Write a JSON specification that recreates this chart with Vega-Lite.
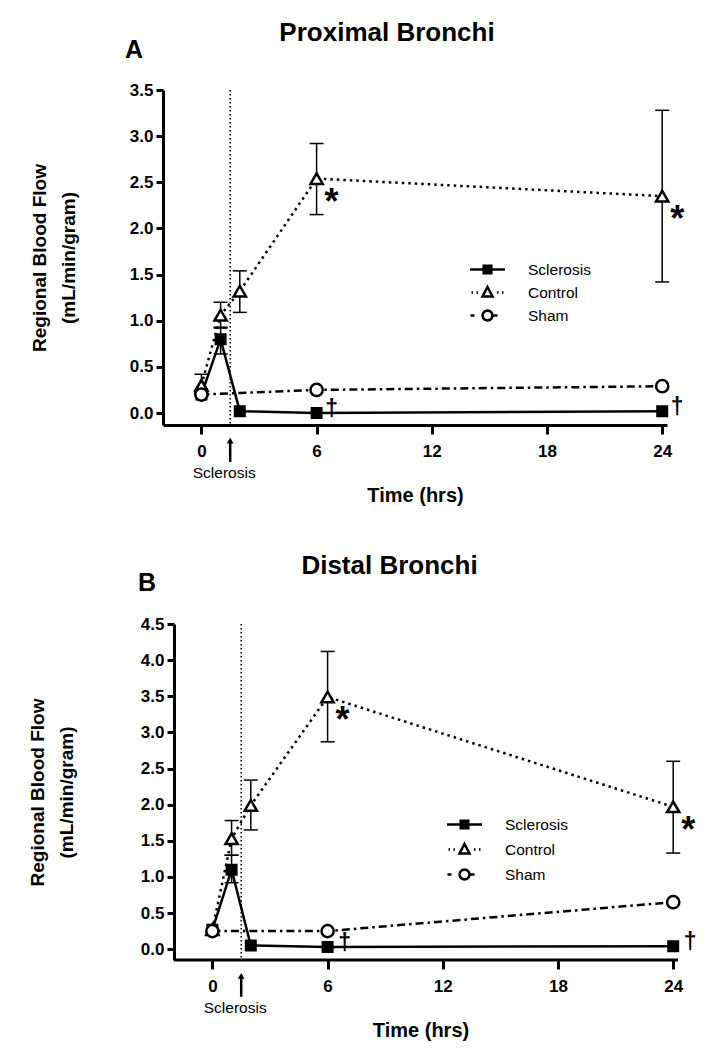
{
  "$schema": "https://vega.github.io/schema/vega-lite/v6.json",
  "background": "white",
  "padding": {"left": 28, "top": 20, "right": 5, "bottom": 5},
  "config": {
    "font": "Liberation Sans",
    "view": {"stroke": null},
    "axis": {"domainColor": "black", "domainWidth": 3, "tickColor": "black", "tickWidth": 3, "labelColor": "black", "labelFont": "Liberation Sans", "labelFontWeight": "bold", "labelFontSize": 17, "titleColor": "black", "titleFont": "Liberation Sans", "titleFontWeight": "bold", "grid": false, "labelOverlap": false, "labelFlush": false}
  },
  "datasets": {
    "A": [
      {"series": "Control", "t": 0, "v": 0.3, "lo": 0.2, "hi": 0.42},
      {"series": "Control", "t": 1, "v": 1.06, "lo": 0.93, "hi": 1.2},
      {"series": "Control", "t": 2, "v": 1.32, "lo": 1.09, "hi": 1.54},
      {"series": "Control", "t": 6, "v": 2.54, "lo": 2.15, "hi": 2.92, "sig": "*"},
      {"series": "Control", "t": 24, "v": 2.35, "lo": 1.42, "hi": 3.28, "sig": "*"},
      {"series": "Sclerosis", "t": 0, "v": 0.2},
      {"series": "Sclerosis", "t": 1, "v": 0.8, "lo": 0.64, "hi": 0.92},
      {"series": "Sclerosis", "t": 2, "v": 0.02},
      {"series": "Sclerosis", "t": 6, "v": 0.0, "sig": "†"},
      {"series": "Sclerosis", "t": 24, "v": 0.02, "sig": "†"},
      {"series": "Sham", "t": 0, "v": 0.2},
      {"series": "Sham", "t": 6, "v": 0.25},
      {"series": "Sham", "t": 24, "v": 0.29}
    ],
    "B": [
      {"series": "Control", "t": 0, "v": 0.27},
      {"series": "Control", "t": 1, "v": 1.53, "lo": 1.3, "hi": 1.78},
      {"series": "Control", "t": 2, "v": 1.99, "lo": 1.65, "hi": 2.34},
      {"series": "Control", "t": 6, "v": 3.49, "lo": 2.87, "hi": 4.12, "sig": "*"},
      {"series": "Control", "t": 24, "v": 1.97, "lo": 1.33, "hi": 2.6, "sig": "*"},
      {"series": "Sclerosis", "t": 0, "v": 0.27},
      {"series": "Sclerosis", "t": 1, "v": 1.1, "lo": 0.92, "hi": 1.3},
      {"series": "Sclerosis", "t": 2, "v": 0.05},
      {"series": "Sclerosis", "t": 6, "v": 0.03, "sig": "†"},
      {"series": "Sclerosis", "t": 24, "v": 0.04, "sig": "†"},
      {"series": "Sham", "t": 0, "v": 0.25},
      {"series": "Sham", "t": 6, "v": 0.25},
      {"series": "Sham", "t": 24, "v": 0.65}
    ]
  },
  "spacing": 48,
  "resolve": {"scale": {"shape": "independent"}, "legend": {"shape": "independent"}},
  "vconcat": [
    {
      "width": 504,
      "height": 335,
      "title": {"text": "Proximal Bronchi", "fontSize": 26, "fontWeight": "bold", "font": "Liberation Sans", "color": "black", "anchor": "middle", "frame": "group", "dx": -28, "offset": -8},
      "data": {"name": "A"},
      "resolve": {"scale": {"shape": "independent"}, "legend": {"shape": "independent"}},
      "layer": [
        {
          "data": {"values": [{}]},
          "mark": {"type": "rule", "strokeDash": [1.5, 2.5], "strokeWidth": 1.5, "color": "black"},
          "encoding": {"x": {"datum": 1.5, "type": "quantitative", "scale": {"domain": [-2, 24.25], "nice": false, "zero": false},
            "axis": {"values": [0, 6, 12, 18, 24], "format": "d", "tickSize": 9, "labelPadding": 9, "labelOverlap": false, "title": "Time (hrs)", "titleFontSize": 20, "titlePadding": 26}}}
        },
        {
          "transform": [{"filter": "isValid(datum.lo)"}],
          "mark": {"type": "rule", "strokeWidth": 1.5, "color": "black"},
          "encoding": {
            "x": {"field": "t", "type": "quantitative", "scale": {"domain": [-2, 24.25], "nice": false, "zero": false},
              "axis": {"values": [0, 6, 12, 18, 24], "format": "d", "tickSize": 9, "labelPadding": 9, "labelOverlap": false, "title": "Time (hrs)", "titleFontSize": 20, "titlePadding": 26}},
            "y": {"field": "lo", "type": "quantitative", "scale": {"domain": [-0.13, 3.5], "nice": false, "zero": false},
              "axis": {"values": [0, 0.5, 1, 1.5, 2, 2.5, 3, 3.5], "format": ".1f", "tickSize": 7, "labelPadding": 3, "labelOverlap": false, "title": ["Regional Blood Flow", "(mL/min/gram)"], "titleFontSize": 19, "titleLineHeight": 29, "titlePadding": 51}},
            "y2": {"field": "hi"}
          }
        },
        {
          "transform": [{"filter": "isValid(datum.lo)"}],
          "mark": {"type": "tick", "orient": "horizontal", "size": 14, "thickness": 1.5, "color": "black", "opacity": 1},
          "encoding": {
            "x": {"field": "t", "type": "quantitative", "scale": {"domain": [-2, 24.25], "nice": false, "zero": false},
              "axis": {"values": [0, 6, 12, 18, 24], "format": "d", "tickSize": 9, "labelPadding": 9, "labelOverlap": false, "title": "Time (hrs)", "titleFontSize": 20, "titlePadding": 26}},
            "y": {"field": "lo", "type": "quantitative", "scale": {"domain": [-0.13, 3.5], "nice": false, "zero": false},
              "axis": {"values": [0, 0.5, 1, 1.5, 2, 2.5, 3, 3.5], "format": ".1f", "tickSize": 7, "labelPadding": 3, "labelOverlap": false, "title": ["Regional Blood Flow", "(mL/min/gram)"], "titleFontSize": 19, "titleLineHeight": 29, "titlePadding": 51}}
          }
        },
        {
          "transform": [{"filter": "isValid(datum.hi)"}],
          "mark": {"type": "tick", "orient": "horizontal", "size": 14, "thickness": 1.5, "color": "black", "opacity": 1},
          "encoding": {
            "x": {"field": "t", "type": "quantitative", "scale": {"domain": [-2, 24.25], "nice": false, "zero": false},
              "axis": {"values": [0, 6, 12, 18, 24], "format": "d", "tickSize": 9, "labelPadding": 9, "labelOverlap": false, "title": "Time (hrs)", "titleFontSize": 20, "titlePadding": 26}},
            "y": {"field": "hi", "type": "quantitative", "scale": {"domain": [-0.13, 3.5], "nice": false, "zero": false},
              "axis": {"values": [0, 0.5, 1, 1.5, 2, 2.5, 3, 3.5], "format": ".1f", "tickSize": 7, "labelPadding": 3, "labelOverlap": false, "title": ["Regional Blood Flow", "(mL/min/gram)"], "titleFontSize": 19, "titleLineHeight": 29, "titlePadding": 51}}
          }
        },
        {
          "transform": [{"filter": "datum.series === 'Sclerosis'"}],
          "mark": {"type": "line", "strokeWidth": 2.5, "color": "black"},
          "encoding": {
            "x": {"field": "t", "type": "quantitative", "scale": {"domain": [-2, 24.25], "nice": false, "zero": false},
              "axis": {"values": [0, 6, 12, 18, 24], "format": "d", "tickSize": 9, "labelPadding": 9, "labelOverlap": false, "title": "Time (hrs)", "titleFontSize": 20, "titlePadding": 26}},
            "y": {"field": "v", "type": "quantitative", "scale": {"domain": [-0.13, 3.5], "nice": false, "zero": false},
              "axis": {"values": [0, 0.5, 1, 1.5, 2, 2.5, 3, 3.5], "format": ".1f", "tickSize": 7, "labelPadding": 3, "labelOverlap": false, "title": ["Regional Blood Flow", "(mL/min/gram)"], "titleFontSize": 19, "titleLineHeight": 29, "titlePadding": 51}}
          }
        },
        {
          "transform": [{"filter": "datum.series === 'Control'"}],
          "mark": {"type": "line", "strokeWidth": 2.5, "color": "black", "strokeDash": [2.5, 4]},
          "encoding": {
            "x": {"field": "t", "type": "quantitative", "scale": {"domain": [-2, 24.25], "nice": false, "zero": false},
              "axis": {"values": [0, 6, 12, 18, 24], "format": "d", "tickSize": 9, "labelPadding": 9, "labelOverlap": false, "title": "Time (hrs)", "titleFontSize": 20, "titlePadding": 26}},
            "y": {"field": "v", "type": "quantitative", "scale": {"domain": [-0.13, 3.5], "nice": false, "zero": false},
              "axis": {"values": [0, 0.5, 1, 1.5, 2, 2.5, 3, 3.5], "format": ".1f", "tickSize": 7, "labelPadding": 3, "labelOverlap": false, "title": ["Regional Blood Flow", "(mL/min/gram)"], "titleFontSize": 19, "titleLineHeight": 29, "titlePadding": 51}}
          }
        },
        {
          "transform": [{"filter": "datum.series === 'Sham'"}],
          "mark": {"type": "line", "strokeWidth": 2.5, "color": "black", "strokeDash": [8, 4, 2.5, 4]},
          "encoding": {
            "x": {"field": "t", "type": "quantitative", "scale": {"domain": [-2, 24.25], "nice": false, "zero": false},
              "axis": {"values": [0, 6, 12, 18, 24], "format": "d", "tickSize": 9, "labelPadding": 9, "labelOverlap": false, "title": "Time (hrs)", "titleFontSize": 20, "titlePadding": 26}},
            "y": {"field": "v", "type": "quantitative", "scale": {"domain": [-0.13, 3.5], "nice": false, "zero": false},
              "axis": {"values": [0, 0.5, 1, 1.5, 2, 2.5, 3, 3.5], "format": ".1f", "tickSize": 7, "labelPadding": 3, "labelOverlap": false, "title": ["Regional Blood Flow", "(mL/min/gram)"], "titleFontSize": 19, "titleLineHeight": 29, "titlePadding": 51}}
          }
        },
        {
          "mark": {"type": "point", "strokeWidth": 2.5, "opacity": 1, "stroke": "black"},
          "encoding": {
            "x": {"field": "t", "type": "quantitative", "scale": {"domain": [-2, 24.25], "nice": false, "zero": false},
              "axis": {"values": [0, 6, 12, 18, 24], "format": "d", "tickSize": 9, "labelPadding": 9, "labelOverlap": false, "title": "Time (hrs)", "titleFontSize": 20, "titlePadding": 26}},
            "y": {"field": "v", "type": "quantitative", "scale": {"domain": [-0.13, 3.5], "nice": false, "zero": false},
              "axis": {"values": [0, 0.5, 1, 1.5, 2, 2.5, 3, 3.5], "format": ".1f", "tickSize": 7, "labelPadding": 3, "labelOverlap": false, "title": ["Regional Blood Flow", "(mL/min/gram)"], "titleFontSize": 19, "titleLineHeight": 29, "titlePadding": 51}},
            "fill": {"condition": {"test": "datum.series === 'Sclerosis'", "value": "black"}, "value": "white"},
            "size": {"condition": {"test": "datum.series === 'Sclerosis'", "value": 90}, "value": 150},
            "shape": {"field": "series", "type": "nominal", "scale": {"domain": ["Sclerosis", "Control", "Sham"], "range": ["square", "triangle-up", "circle"]}, "legend": null}
          }
        },
        {
          "transform": [{"filter": "false"}],
          "mark": {"type": "point", "strokeWidth": 2.5, "opacity": 1, "color": "black", "filled": false},
          "encoding": {
            "x": {"field": "t", "type": "quantitative", "scale": {"domain": [-2, 24.25], "nice": false, "zero": false},
              "axis": {"values": [0, 6, 12, 18, 24], "format": "d", "tickSize": 9, "labelPadding": 9, "labelOverlap": false, "title": "Time (hrs)", "titleFontSize": 20, "titlePadding": 26}},
            "y": {"field": "v", "type": "quantitative", "scale": {"domain": [-0.13, 3.5], "nice": false, "zero": false},
              "axis": {"values": [0, 0.5, 1, 1.5, 2, 2.5, 3, 3.5], "format": ".1f", "tickSize": 7, "labelPadding": 3, "labelOverlap": false, "title": ["Regional Blood Flow", "(mL/min/gram)"], "titleFontSize": 19, "titleLineHeight": 29, "titlePadding": 51}},
            "shape": {"field": "series", "type": "nominal",
              "scale": {"domain": ["Sclerosis", "Control", "Sham"], "range": [
                "M-1.75,0H1.75M-0.38,-0.38H0.38V0.38H-0.38ZM-0.38,-0.19H0.38M-0.38,0.19H0.38",
                "M-1.6,0H-1.45M-1.1,0H-0.95M0.95,0H1.1M1.45,0H1.6M0,-0.55L0.5,0.4H-0.5Z",
                "M-1.7,0H-1.3M0.5,0H1.0M0.5,0L0.433,0.25L0.25,0.433L0,0.5L-0.25,0.433L-0.433,0.25L-0.5,0L-0.433,-0.25L-0.25,-0.433L0,-0.5L0.25,-0.433L0.433,-0.25Z"
              ]},
              "legend": {"orient": "none", "legendX": 313, "legendY": 168, "title": null, "symbolSize": 400, "symbolStrokeWidth": 2.5, "symbolStrokeColor": "black", "symbolFillColor": "white", "symbolOpacity": 1, "labelOffset": 29, "labelFontSize": 15.5, "labelFont": "Liberation Sans", "labelFontWeight": "normal", "labelColor": "black", "rowPadding": 2, "padding": 0}}
          }
        },
        {
          "transform": [{"filter": "datum.sig === '*'"}],
          "mark": {"type": "text", "fontSize": 36, "fontWeight": "bold", "font": "Liberation Sans", "color": "black", "baseline": "middle", "dx": 15, "dy": 24},
          "encoding": {
            "x": {"field": "t", "type": "quantitative", "scale": {"domain": [-2, 24.25], "nice": false, "zero": false},
              "axis": {"values": [0, 6, 12, 18, 24], "format": "d", "tickSize": 9, "labelPadding": 9, "labelOverlap": false, "title": "Time (hrs)", "titleFontSize": 20, "titlePadding": 26}},
            "y": {"field": "v", "type": "quantitative", "scale": {"domain": [-0.13, 3.5], "nice": false, "zero": false},
              "axis": {"values": [0, 0.5, 1, 1.5, 2, 2.5, 3, 3.5], "format": ".1f", "tickSize": 7, "labelPadding": 3, "labelOverlap": false, "title": ["Regional Blood Flow", "(mL/min/gram)"], "titleFontSize": 19, "titleLineHeight": 29, "titlePadding": 51}},
            "text": {"field": "sig"}
          }
        },
        {
          "transform": [{"filter": "datum.sig === '†'"}],
          "mark": {"type": "text", "fontSize": 23, "fontWeight": "bold", "font": "Liberation Sans", "color": "black", "baseline": "middle", "dx": 15, "dy": -4},
          "encoding": {
            "x": {"field": "t", "type": "quantitative", "scale": {"domain": [-2, 24.25], "nice": false, "zero": false},
              "axis": {"values": [0, 6, 12, 18, 24], "format": "d", "tickSize": 9, "labelPadding": 9, "labelOverlap": false, "title": "Time (hrs)", "titleFontSize": 20, "titlePadding": 26}},
            "y": {"field": "v", "type": "quantitative", "scale": {"domain": [-0.13, 3.5], "nice": false, "zero": false},
              "axis": {"values": [0, 0.5, 1, 1.5, 2, 2.5, 3, 3.5], "format": ".1f", "tickSize": 7, "labelPadding": 3, "labelOverlap": false, "title": ["Regional Blood Flow", "(mL/min/gram)"], "titleFontSize": 19, "titleLineHeight": 29, "titlePadding": 51}},
            "text": {"field": "sig"}
          }
        },
        {
          "data": {"values": [{}]},
          "mark": {"type": "rule", "strokeWidth": 2.5, "color": "black"},
          "encoding": {
            "x": {"datum": 1.5, "type": "quantitative", "scale": {"domain": [-2, 24.25], "nice": false, "zero": false},
              "axis": {"values": [0, 6, 12, 18, 24], "format": "d", "tickSize": 9, "labelPadding": 9, "labelOverlap": false, "title": "Time (hrs)", "titleFontSize": 20, "titlePadding": 26}},
            "y": {"datum": -0.29, "type": "quantitative", "scale": {"domain": [-0.13, 3.5], "nice": false, "zero": false},
              "axis": {"values": [0, 0.5, 1, 1.5, 2, 2.5, 3, 3.5], "format": ".1f", "tickSize": 7, "labelPadding": 3, "labelOverlap": false, "title": ["Regional Blood Flow", "(mL/min/gram)"], "titleFontSize": 19, "titleLineHeight": 29, "titlePadding": 51}},
            "y2": {"datum": -0.53}
          }
        },
        {
          "data": {"values": [{}]},
          "mark": {"type": "point", "shape": "triangle-up", "filled": true, "size": 45, "color": "black", "opacity": 1},
          "encoding": {
            "x": {"datum": 1.5, "type": "quantitative", "scale": {"domain": [-2, 24.25], "nice": false, "zero": false},
              "axis": {"values": [0, 6, 12, 18, 24], "format": "d", "tickSize": 9, "labelPadding": 9, "labelOverlap": false, "title": "Time (hrs)", "titleFontSize": 20, "titlePadding": 26}},
            "y": {"datum": -0.3, "type": "quantitative", "scale": {"domain": [-0.13, 3.5], "nice": false, "zero": false},
              "axis": {"values": [0, 0.5, 1, 1.5, 2, 2.5, 3, 3.5], "format": ".1f", "tickSize": 7, "labelPadding": 3, "labelOverlap": false, "title": ["Regional Blood Flow", "(mL/min/gram)"], "titleFontSize": 19, "titleLineHeight": 29, "titlePadding": 51}}
          }
        },
        {
          "data": {"values": [{}]},
          "mark": {"type": "text", "text": "Sclerosis", "fontSize": 15.5, "font": "Liberation Sans", "color": "black", "baseline": "middle", "dy": 48, "dx": -6},
          "encoding": {
            "x": {"datum": 1.5, "type": "quantitative", "scale": {"domain": [-2, 24.25], "nice": false, "zero": false},
              "axis": {"values": [0, 6, 12, 18, 24], "format": "d", "tickSize": 9, "labelPadding": 9, "labelOverlap": false, "title": "Time (hrs)", "titleFontSize": 20, "titlePadding": 26}},
            "y": {"datum": -0.13, "type": "quantitative", "scale": {"domain": [-0.13, 3.5], "nice": false, "zero": false},
              "axis": {"values": [0, 0.5, 1, 1.5, 2, 2.5, 3, 3.5], "format": ".1f", "tickSize": 7, "labelPadding": 3, "labelOverlap": false, "title": ["Regional Blood Flow", "(mL/min/gram)"], "titleFontSize": 19, "titleLineHeight": 29, "titlePadding": 51}}
          }
        },
        {
          "data": {"values": [{}]},
          "mark": {"type": "text", "text": "A", "fontSize": 25, "font": "Liberation Sans", "fontWeight": "bold", "color": "black", "baseline": "middle", "dy": -40, "dx": -29},
          "encoding": {
            "x": {"datum": -2, "type": "quantitative", "scale": {"domain": [-2, 24.25], "nice": false, "zero": false},
              "axis": {"values": [0, 6, 12, 18, 24], "format": "d", "tickSize": 9, "labelPadding": 9, "labelOverlap": false, "title": "Time (hrs)", "titleFontSize": 20, "titlePadding": 26}},
            "y": {"datum": 3.5, "type": "quantitative", "scale": {"domain": [-0.13, 3.5], "nice": false, "zero": false},
              "axis": {"values": [0, 0.5, 1, 1.5, 2, 2.5, 3, 3.5], "format": ".1f", "tickSize": 7, "labelPadding": 3, "labelOverlap": false, "title": ["Regional Blood Flow", "(mL/min/gram)"], "titleFontSize": 19, "titleLineHeight": 29, "titlePadding": 51}}
          }
        }
      ]
    },
    {
      "width": 515,
      "height": 336,
      "title": {"text": "Distal Bronchi", "fontSize": 26, "fontWeight": "bold", "font": "Liberation Sans", "color": "black", "anchor": "middle", "frame": "group", "dx": -31, "offset": -8},
      "data": {"name": "B"},
      "resolve": {"scale": {"shape": "independent"}, "legend": {"shape": "independent"}},
      "layer": [
        {
          "data": {"values": [{}]},
          "mark": {"type": "rule", "strokeDash": [1.5, 2.5], "strokeWidth": 1.5, "color": "black"},
          "encoding": {"x": {"datum": 1.5, "type": "quantitative", "scale": {"domain": [-2.573, 24.25], "nice": false, "zero": false},
            "axis": {"values": [0, 6, 12, 18, 24], "format": "d", "domain": false, "tickSize": 9, "labelPadding": 9, "labelOverlap": false, "title": "Time (hrs)", "titleFontSize": 20, "titlePadding": 26}}}
        },
        {
          "data": {"values": [{}]},
          "mark": {"type": "rule", "strokeWidth": 3, "color": "black"},
          "encoding": {
            "x": {"datum": -2.0, "type": "quantitative", "scale": {"domain": [-2.573, 24.25], "nice": false, "zero": false},
              "axis": {"values": [0, 6, 12, 18, 24], "format": "d", "domain": false, "tickSize": 9, "labelPadding": 9, "labelOverlap": false, "title": "Time (hrs)", "titleFontSize": 20, "titlePadding": 26}},
            "x2": {"datum": 24.25},
            "y": {"datum": -0.15, "type": "quantitative", "scale": {"domain": [-0.15, 4.5], "nice": false, "zero": false},
              "axis": {"values": [0, 0.5, 1, 1.5, 2, 2.5, 3, 3.5, 4, 4.5], "format": ".1f", "offset": -11, "tickSize": 7, "labelPadding": 3, "labelOverlap": false, "title": ["Regional Blood Flow", "(mL/min/gram)"], "titleFontSize": 19, "titleLineHeight": 29, "titlePadding": 64}}
          }
        },
        {
          "transform": [{"filter": "isValid(datum.lo)"}],
          "mark": {"type": "rule", "strokeWidth": 1.5, "color": "black"},
          "encoding": {
            "x": {"field": "t", "type": "quantitative", "scale": {"domain": [-2.573, 24.25], "nice": false, "zero": false},
              "axis": {"values": [0, 6, 12, 18, 24], "format": "d", "domain": false, "tickSize": 9, "labelPadding": 9, "labelOverlap": false, "title": "Time (hrs)", "titleFontSize": 20, "titlePadding": 26}},
            "y": {"field": "lo", "type": "quantitative", "scale": {"domain": [-0.15, 4.5], "nice": false, "zero": false},
              "axis": {"values": [0, 0.5, 1, 1.5, 2, 2.5, 3, 3.5, 4, 4.5], "format": ".1f", "offset": -11, "tickSize": 7, "labelPadding": 3, "labelOverlap": false, "title": ["Regional Blood Flow", "(mL/min/gram)"], "titleFontSize": 19, "titleLineHeight": 29, "titlePadding": 64}},
            "y2": {"field": "hi"}
          }
        },
        {
          "transform": [{"filter": "isValid(datum.lo)"}],
          "mark": {"type": "tick", "orient": "horizontal", "size": 14, "thickness": 1.5, "color": "black", "opacity": 1},
          "encoding": {
            "x": {"field": "t", "type": "quantitative", "scale": {"domain": [-2.573, 24.25], "nice": false, "zero": false},
              "axis": {"values": [0, 6, 12, 18, 24], "format": "d", "domain": false, "tickSize": 9, "labelPadding": 9, "labelOverlap": false, "title": "Time (hrs)", "titleFontSize": 20, "titlePadding": 26}},
            "y": {"field": "lo", "type": "quantitative", "scale": {"domain": [-0.15, 4.5], "nice": false, "zero": false},
              "axis": {"values": [0, 0.5, 1, 1.5, 2, 2.5, 3, 3.5, 4, 4.5], "format": ".1f", "offset": -11, "tickSize": 7, "labelPadding": 3, "labelOverlap": false, "title": ["Regional Blood Flow", "(mL/min/gram)"], "titleFontSize": 19, "titleLineHeight": 29, "titlePadding": 64}}
          }
        },
        {
          "transform": [{"filter": "isValid(datum.hi)"}],
          "mark": {"type": "tick", "orient": "horizontal", "size": 14, "thickness": 1.5, "color": "black", "opacity": 1},
          "encoding": {
            "x": {"field": "t", "type": "quantitative", "scale": {"domain": [-2.573, 24.25], "nice": false, "zero": false},
              "axis": {"values": [0, 6, 12, 18, 24], "format": "d", "domain": false, "tickSize": 9, "labelPadding": 9, "labelOverlap": false, "title": "Time (hrs)", "titleFontSize": 20, "titlePadding": 26}},
            "y": {"field": "hi", "type": "quantitative", "scale": {"domain": [-0.15, 4.5], "nice": false, "zero": false},
              "axis": {"values": [0, 0.5, 1, 1.5, 2, 2.5, 3, 3.5, 4, 4.5], "format": ".1f", "offset": -11, "tickSize": 7, "labelPadding": 3, "labelOverlap": false, "title": ["Regional Blood Flow", "(mL/min/gram)"], "titleFontSize": 19, "titleLineHeight": 29, "titlePadding": 64}}
          }
        },
        {
          "transform": [{"filter": "datum.series === 'Sclerosis'"}],
          "mark": {"type": "line", "strokeWidth": 2.5, "color": "black"},
          "encoding": {
            "x": {"field": "t", "type": "quantitative", "scale": {"domain": [-2.573, 24.25], "nice": false, "zero": false},
              "axis": {"values": [0, 6, 12, 18, 24], "format": "d", "domain": false, "tickSize": 9, "labelPadding": 9, "labelOverlap": false, "title": "Time (hrs)", "titleFontSize": 20, "titlePadding": 26}},
            "y": {"field": "v", "type": "quantitative", "scale": {"domain": [-0.15, 4.5], "nice": false, "zero": false},
              "axis": {"values": [0, 0.5, 1, 1.5, 2, 2.5, 3, 3.5, 4, 4.5], "format": ".1f", "offset": -11, "tickSize": 7, "labelPadding": 3, "labelOverlap": false, "title": ["Regional Blood Flow", "(mL/min/gram)"], "titleFontSize": 19, "titleLineHeight": 29, "titlePadding": 64}}
          }
        },
        {
          "transform": [{"filter": "datum.series === 'Control'"}],
          "mark": {"type": "line", "strokeWidth": 2.5, "color": "black", "strokeDash": [2.5, 4]},
          "encoding": {
            "x": {"field": "t", "type": "quantitative", "scale": {"domain": [-2.573, 24.25], "nice": false, "zero": false},
              "axis": {"values": [0, 6, 12, 18, 24], "format": "d", "domain": false, "tickSize": 9, "labelPadding": 9, "labelOverlap": false, "title": "Time (hrs)", "titleFontSize": 20, "titlePadding": 26}},
            "y": {"field": "v", "type": "quantitative", "scale": {"domain": [-0.15, 4.5], "nice": false, "zero": false},
              "axis": {"values": [0, 0.5, 1, 1.5, 2, 2.5, 3, 3.5, 4, 4.5], "format": ".1f", "offset": -11, "tickSize": 7, "labelPadding": 3, "labelOverlap": false, "title": ["Regional Blood Flow", "(mL/min/gram)"], "titleFontSize": 19, "titleLineHeight": 29, "titlePadding": 64}}
          }
        },
        {
          "transform": [{"filter": "datum.series === 'Sham'"}],
          "mark": {"type": "line", "strokeWidth": 2.5, "color": "black", "strokeDash": [8, 4, 2.5, 4]},
          "encoding": {
            "x": {"field": "t", "type": "quantitative", "scale": {"domain": [-2.573, 24.25], "nice": false, "zero": false},
              "axis": {"values": [0, 6, 12, 18, 24], "format": "d", "domain": false, "tickSize": 9, "labelPadding": 9, "labelOverlap": false, "title": "Time (hrs)", "titleFontSize": 20, "titlePadding": 26}},
            "y": {"field": "v", "type": "quantitative", "scale": {"domain": [-0.15, 4.5], "nice": false, "zero": false},
              "axis": {"values": [0, 0.5, 1, 1.5, 2, 2.5, 3, 3.5, 4, 4.5], "format": ".1f", "offset": -11, "tickSize": 7, "labelPadding": 3, "labelOverlap": false, "title": ["Regional Blood Flow", "(mL/min/gram)"], "titleFontSize": 19, "titleLineHeight": 29, "titlePadding": 64}}
          }
        },
        {
          "mark": {"type": "point", "strokeWidth": 2.5, "opacity": 1, "stroke": "black"},
          "encoding": {
            "x": {"field": "t", "type": "quantitative", "scale": {"domain": [-2.573, 24.25], "nice": false, "zero": false},
              "axis": {"values": [0, 6, 12, 18, 24], "format": "d", "domain": false, "tickSize": 9, "labelPadding": 9, "labelOverlap": false, "title": "Time (hrs)", "titleFontSize": 20, "titlePadding": 26}},
            "y": {"field": "v", "type": "quantitative", "scale": {"domain": [-0.15, 4.5], "nice": false, "zero": false},
              "axis": {"values": [0, 0.5, 1, 1.5, 2, 2.5, 3, 3.5, 4, 4.5], "format": ".1f", "offset": -11, "tickSize": 7, "labelPadding": 3, "labelOverlap": false, "title": ["Regional Blood Flow", "(mL/min/gram)"], "titleFontSize": 19, "titleLineHeight": 29, "titlePadding": 64}},
            "fill": {"condition": {"test": "datum.series === 'Sclerosis'", "value": "black"}, "value": "white"},
            "size": {"condition": {"test": "datum.series === 'Sclerosis'", "value": 90}, "value": 150},
            "shape": {"field": "series", "type": "nominal", "scale": {"domain": ["Sclerosis", "Control", "Sham"], "range": ["square", "triangle-up", "circle"]}, "legend": null}
          }
        },
        {
          "transform": [{"filter": "false"}],
          "mark": {"type": "point", "strokeWidth": 2.5, "opacity": 1, "color": "black", "filled": false},
          "encoding": {
            "x": {"field": "t", "type": "quantitative", "scale": {"domain": [-2.573, 24.25], "nice": false, "zero": false},
              "axis": {"values": [0, 6, 12, 18, 24], "format": "d", "domain": false, "tickSize": 9, "labelPadding": 9, "labelOverlap": false, "title": "Time (hrs)", "titleFontSize": 20, "titlePadding": 26}},
            "y": {"field": "v", "type": "quantitative", "scale": {"domain": [-0.15, 4.5], "nice": false, "zero": false},
              "axis": {"values": [0, 0.5, 1, 1.5, 2, 2.5, 3, 3.5, 4, 4.5], "format": ".1f", "offset": -11, "tickSize": 7, "labelPadding": 3, "labelOverlap": false, "title": ["Regional Blood Flow", "(mL/min/gram)"], "titleFontSize": 19, "titleLineHeight": 29, "titlePadding": 64}},
            "shape": {"field": "series", "type": "nominal",
              "scale": {"domain": ["Sclerosis", "Control", "Sham"], "range": [
                "M-1.75,0H1.75M-0.38,-0.38H0.38V0.38H-0.38ZM-0.38,-0.19H0.38M-0.38,0.19H0.38",
                "M-1.6,0H-1.45M-1.1,0H-0.95M0.95,0H1.1M1.45,0H1.6M0,-0.55L0.5,0.4H-0.5Z",
                "M-1.7,0H-1.3M0.5,0H1.0M0.5,0L0.433,0.25L0.25,0.433L0,0.5L-0.25,0.433L-0.433,0.25L-0.5,0L-0.433,-0.25L-0.25,-0.433L0,-0.5L0.25,-0.433L0.433,-0.25Z"
              ]},
              "legend": {"orient": "none", "legendX": 290, "legendY": 189, "title": null, "symbolSize": 400, "symbolStrokeWidth": 2.5, "symbolStrokeColor": "black", "symbolFillColor": "white", "symbolOpacity": 1, "labelOffset": 29, "labelFontSize": 15.5, "labelFont": "Liberation Sans", "labelFontWeight": "normal", "labelColor": "black", "rowPadding": 4, "padding": 0}}
          }
        },
        {
          "transform": [{"filter": "datum.sig === '*'"}],
          "mark": {"type": "text", "fontSize": 36, "fontWeight": "bold", "font": "Liberation Sans", "color": "black", "baseline": "middle", "dx": 15, "dy": 24},
          "encoding": {
            "x": {"field": "t", "type": "quantitative", "scale": {"domain": [-2.573, 24.25], "nice": false, "zero": false},
              "axis": {"values": [0, 6, 12, 18, 24], "format": "d", "domain": false, "tickSize": 9, "labelPadding": 9, "labelOverlap": false, "title": "Time (hrs)", "titleFontSize": 20, "titlePadding": 26}},
            "y": {"field": "v", "type": "quantitative", "scale": {"domain": [-0.15, 4.5], "nice": false, "zero": false},
              "axis": {"values": [0, 0.5, 1, 1.5, 2, 2.5, 3, 3.5, 4, 4.5], "format": ".1f", "offset": -11, "tickSize": 7, "labelPadding": 3, "labelOverlap": false, "title": ["Regional Blood Flow", "(mL/min/gram)"], "titleFontSize": 19, "titleLineHeight": 29, "titlePadding": 64}},
            "text": {"field": "sig"}
          }
        },
        {
          "transform": [{"filter": "datum.sig === '†'"}],
          "mark": {"type": "text", "fontSize": 23, "fontWeight": "bold", "font": "Liberation Sans", "color": "black", "baseline": "middle", "dx": 17, "dy": -4},
          "encoding": {
            "x": {"field": "t", "type": "quantitative", "scale": {"domain": [-2.573, 24.25], "nice": false, "zero": false},
              "axis": {"values": [0, 6, 12, 18, 24], "format": "d", "domain": false, "tickSize": 9, "labelPadding": 9, "labelOverlap": false, "title": "Time (hrs)", "titleFontSize": 20, "titlePadding": 26}},
            "y": {"field": "v", "type": "quantitative", "scale": {"domain": [-0.15, 4.5], "nice": false, "zero": false},
              "axis": {"values": [0, 0.5, 1, 1.5, 2, 2.5, 3, 3.5, 4, 4.5], "format": ".1f", "offset": -11, "tickSize": 7, "labelPadding": 3, "labelOverlap": false, "title": ["Regional Blood Flow", "(mL/min/gram)"], "titleFontSize": 19, "titleLineHeight": 29, "titlePadding": 64}},
            "text": {"field": "sig"}
          }
        },
        {
          "data": {"values": [{}]},
          "mark": {"type": "rule", "strokeWidth": 2.5, "color": "black"},
          "encoding": {
            "x": {"datum": 1.5, "type": "quantitative", "scale": {"domain": [-2.573, 24.25], "nice": false, "zero": false},
              "axis": {"values": [0, 6, 12, 18, 24], "format": "d", "domain": false, "tickSize": 9, "labelPadding": 9, "labelOverlap": false, "title": "Time (hrs)", "titleFontSize": 20, "titlePadding": 26}},
            "y": {"datum": -0.36, "type": "quantitative", "scale": {"domain": [-0.15, 4.5], "nice": false, "zero": false},
              "axis": {"values": [0, 0.5, 1, 1.5, 2, 2.5, 3, 3.5, 4, 4.5], "format": ".1f", "offset": -11, "tickSize": 7, "labelPadding": 3, "labelOverlap": false, "title": ["Regional Blood Flow", "(mL/min/gram)"], "titleFontSize": 19, "titleLineHeight": 29, "titlePadding": 64}},
            "y2": {"datum": -0.66}
          }
        },
        {
          "data": {"values": [{}]},
          "mark": {"type": "point", "shape": "triangle-up", "filled": true, "size": 45, "color": "black", "opacity": 1},
          "encoding": {
            "x": {"datum": 1.5, "type": "quantitative", "scale": {"domain": [-2.573, 24.25], "nice": false, "zero": false},
              "axis": {"values": [0, 6, 12, 18, 24], "format": "d", "domain": false, "tickSize": 9, "labelPadding": 9, "labelOverlap": false, "title": "Time (hrs)", "titleFontSize": 20, "titlePadding": 26}},
            "y": {"datum": -0.37, "type": "quantitative", "scale": {"domain": [-0.15, 4.5], "nice": false, "zero": false},
              "axis": {"values": [0, 0.5, 1, 1.5, 2, 2.5, 3, 3.5, 4, 4.5], "format": ".1f", "offset": -11, "tickSize": 7, "labelPadding": 3, "labelOverlap": false, "title": ["Regional Blood Flow", "(mL/min/gram)"], "titleFontSize": 19, "titleLineHeight": 29, "titlePadding": 64}}
          }
        },
        {
          "data": {"values": [{}]},
          "mark": {"type": "text", "text": "Sclerosis", "fontSize": 15.5, "font": "Liberation Sans", "color": "black", "baseline": "middle", "dy": 48, "dx": -6},
          "encoding": {
            "x": {"datum": 1.5, "type": "quantitative", "scale": {"domain": [-2.573, 24.25], "nice": false, "zero": false},
              "axis": {"values": [0, 6, 12, 18, 24], "format": "d", "domain": false, "tickSize": 9, "labelPadding": 9, "labelOverlap": false, "title": "Time (hrs)", "titleFontSize": 20, "titlePadding": 26}},
            "y": {"datum": -0.15, "type": "quantitative", "scale": {"domain": [-0.15, 4.5], "nice": false, "zero": false},
              "axis": {"values": [0, 0.5, 1, 1.5, 2, 2.5, 3, 3.5, 4, 4.5], "format": ".1f", "offset": -11, "tickSize": 7, "labelPadding": 3, "labelOverlap": false, "title": ["Regional Blood Flow", "(mL/min/gram)"], "titleFontSize": 19, "titleLineHeight": 29, "titlePadding": 64}}
          }
        },
        {
          "data": {"values": [{}]},
          "mark": {"type": "text", "text": "B", "fontSize": 25, "font": "Liberation Sans", "fontWeight": "bold", "color": "black", "baseline": "middle", "dy": -41, "dx": -27},
          "encoding": {
            "x": {"datum": -2.0, "type": "quantitative", "scale": {"domain": [-2.573, 24.25], "nice": false, "zero": false},
              "axis": {"values": [0, 6, 12, 18, 24], "format": "d", "domain": false, "tickSize": 9, "labelPadding": 9, "labelOverlap": false, "title": "Time (hrs)", "titleFontSize": 20, "titlePadding": 26}},
            "y": {"datum": 4.5, "type": "quantitative", "scale": {"domain": [-0.15, 4.5], "nice": false, "zero": false},
              "axis": {"values": [0, 0.5, 1, 1.5, 2, 2.5, 3, 3.5, 4, 4.5], "format": ".1f", "offset": -11, "tickSize": 7, "labelPadding": 3, "labelOverlap": false, "title": ["Regional Blood Flow", "(mL/min/gram)"], "titleFontSize": 19, "titleLineHeight": 29, "titlePadding": 64}}
          }
        }
      ]
    }
  ]
}
